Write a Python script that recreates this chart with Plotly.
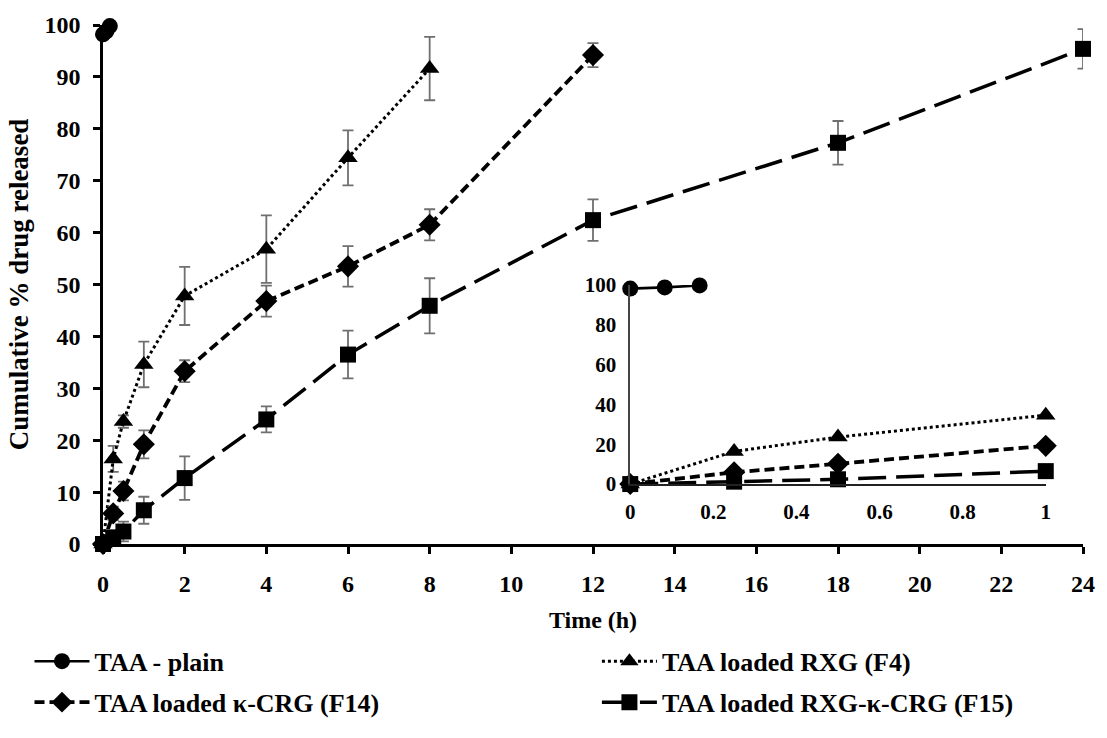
import plotly.graph_objects as go

# ---- data -------------------------------------------------------------
plain_t = [0, 0.083, 0.167]
plain_y = [98.2, 98.8, 99.8]

f4_t = [0, 0.25, 0.5, 1, 2, 4, 6, 8]
f4_y = [0, 16.4, 23.6, 34.6, 47.8, 56.8, 74.4, 91.6]
f4_sd = [0, 2.5, 1.2, 4.4, 5.6, 6.5, 5.3, 6.1]

f14_t = [0, 0.25, 0.5, 1, 2, 4, 6, 8, 12]
f14_y = [0, 5.9, 10.2, 19.2, 33.3, 46.8, 53.5, 61.5, 94.2]
f14_sd = [0, 1.3, 1.8, 2.7, 2.1, 3.0, 3.9, 3.0, 2.3]

f15_t = [0, 0.25, 0.5, 1, 2, 4, 6, 8, 12, 18, 24]
f15_y = [0, 1.2, 2.4, 6.5, 12.7, 24.0, 36.5, 45.9, 62.4, 77.3, 95.4]
f15_sd = [0, 1.5, 1.9, 2.6, 4.2, 2.5, 4.6, 5.3, 4.0, 4.2, 3.8]

inset_max_t = 1.0

names = ["TAA - plain", "TAA loaded RXG (F4)",
         "TAA loaded κ-CRG (F14)", "TAA loaded RXG-κ-CRG (F15)"]

# ---- styling ----------------------------------------------------------
FONT = "Liberation Serif"
ERR = dict(type="data", color="#6f6f6f", thickness=1.8, width=5.5)

styles = {
    "plain": dict(line=dict(color="black", width=2.6),
                  marker=dict(symbol="circle", size=16, color="black")),
    "f4": dict(line=dict(color="black", width=3, dash="dot"),
               marker=dict(symbol="triangle-up", size=17, color="black")),
    "f14": dict(line=dict(color="black", width=3.8, dash="10px,5px"),
                marker=dict(symbol="diamond", size=17, color="black")),
    "f15": dict(line=dict(color="black", width=3.5, dash="28px,10px"),
                marker=dict(symbol="square", size=16, color="black")),
}

fig = go.Figure()


def add_series(t, y, sd, key, name, legend, xa="x", ya="y", main=True):
    kw = dict(x=t, y=y, mode="lines+markers", name=name,
              xaxis=xa, yaxis=ya, cliponaxis=False, **styles[key])
    if main:
        kw["legend"] = legend
        kw["showlegend"] = True
        if sd is not None:
            kw["error_y"] = dict(array=sd, **ERR)
    else:
        kw["showlegend"] = False
    fig.add_trace(go.Scatter(**kw))


def clip(t, y, tmax):
    pairs = [(a, b) for a, b in zip(t, y) if a <= tmax]
    return [p[0] for p in pairs], [p[1] for p in pairs]


# main panel, one legend box per entry (2 x 2 grid below the axes)
add_series(plain_t, plain_y, None, "plain", names[0], "legend")
add_series(f4_t, f4_y, f4_sd, "f4", names[1], "legend2")
add_series(f14_t, f14_y, f14_sd, "f14", names[2], "legend3")
add_series(f15_t, f15_y, f15_sd, "f15", names[3], "legend4")

# inset panel (first hour)
for t, y, key in [(f4_t, f4_y, "f4"), (f14_t, f14_y, "f14"),
                  (f15_t, f15_y, "f15"), (plain_t, plain_y, "plain")]:
    tt, yy = clip(t, y, inset_max_t)
    add_series(tt, yy, None, key, "", None, xa="x2", ya="y2", main=False)

tickfont = dict(family=FONT, size=24, color="black", weight="bold")
insetfont = dict(family=FONT, size=21, color="black", weight="bold")
legfont = dict(family=FONT, size=26, color="black", weight="bold")


def leg(x, y):
    return dict(orientation="h", x=x, y=y, xanchor="left", yanchor="middle",
                itemwidth=55, font=legfont, bgcolor="rgba(0,0,0,0)")


COL_L, COL_R = -0.075, 0.504
ROW_1, ROW_2 = -0.226, -0.305

fig.update_layout(
    width=1107, height=738,
    margin=dict(l=103, r=12, t=23, b=178),
    paper_bgcolor="white", plot_bgcolor="white",
    font=dict(family=FONT, size=20, color="black", weight="bold"),
    xaxis=dict(range=[0, 24], dtick=2, tick0=0, showgrid=False, zeroline=False,
               showline=True, linecolor="black", linewidth=2.5,
               ticks="outside", ticklen=7, tickwidth=2.5, tickcolor="black",
               tickfont=tickfont, ticklabelstandoff=9,
               title=dict(text="Time (h)", font=dict(family=FONT, size=24, weight="bold"),
                          standoff=16)),
    yaxis=dict(range=[0, 100], dtick=10, tick0=0, showgrid=False, zeroline=False,
               showline=True, linecolor="black", linewidth=2.5,
               ticks="outside", ticklen=7, tickwidth=2.5, tickcolor="black",
               tickfont=tickfont, ticklabelstandoff=8,
               title=dict(text="Cumulative % drug released",
                          font=dict(family=FONT, size=27, weight="bold"), standoff=9)),
    xaxis2=dict(domain=[0.538, 0.962], anchor="y2", range=[0, 1], dtick=0.2, tick0=0,
                showgrid=False, zeroline=False, showline=True,
                linecolor="#222222", linewidth=1.6, ticks="", tickfont=insetfont,
                ticklabelstandoff=8),
    yaxis2=dict(domain=[0.1155, 0.499], anchor="x2", range=[0, 100], dtick=20, tick0=0,
                showgrid=False, zeroline=False, showline=True,
                linecolor="#444444", linewidth=1.6, ticks="", tickfont=insetfont,
                ticklabelstandoff=8),
    legend=leg(COL_L, ROW_1),
    legend2=leg(COL_R, ROW_1),
    legend3=leg(COL_L, ROW_2),
    legend4=leg(COL_R, ROW_2),
)

fig.write_html("out.html")
